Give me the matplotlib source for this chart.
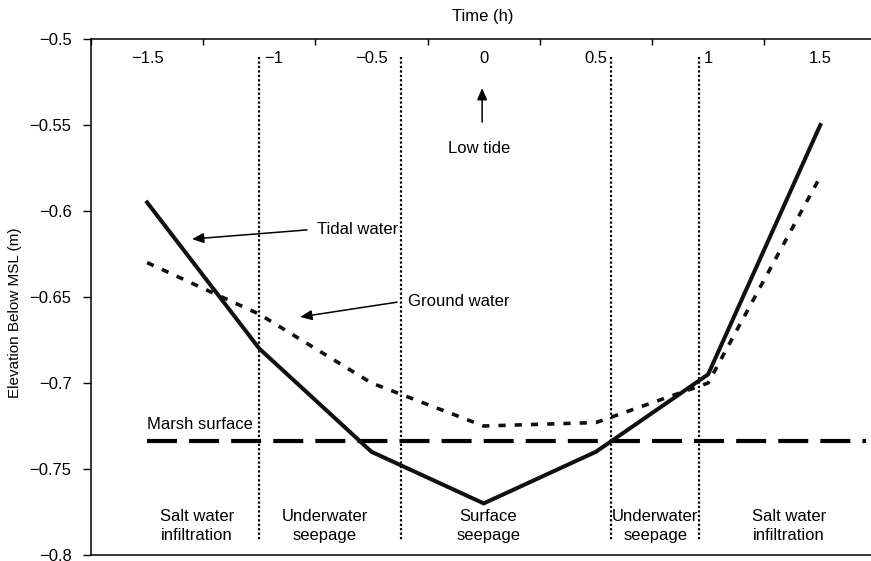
import matplotlib
matplotlib.use("Agg")
import matplotlib.pyplot as plt

plt.rcParams["font.family"] = ["Liberation Sans", "DejaVu Sans"]
plt.rcParams["axes.unicode_minus"] = True

# Time relative to low tide (h)
time_h = [-1.5, -1.0, -0.5, 0.0, 0.5, 1.0, 1.5]
time_labels = ["\u22121.5", "\u22121", "\u22120.5", "0", "0.5", "1", "1.5"]

# Elevations (m relative to MSL)
tidal_water = [-0.595, -0.68, -0.74, -0.77, -0.74, -0.695, -0.55]
ground_water = [-0.63, -0.66, -0.70, -0.725, -0.723, -0.70, -0.58]
marsh_surface = -0.7337

# Phase boundaries (h) and phase names
phase_bounds = [-1.0, -0.368, 0.569, 0.961]
phase_names = ["Salt water\ninfiltration", "Underwater\nseepage", "Surface\nseepage",
               "Underwater\nseepage", "Salt water\ninfiltration"]
phase_centers = [-1.277, -0.707, 0.020, 0.764, 1.361]

y_ticks = [-0.5, -0.55, -0.6, -0.65, -0.7, -0.75, -0.8]
y_labels = ["\u22120.5", "\u22120.55", "\u22120.6", "\u22120.65", "\u22120.7", "\u22120.75", "\u22120.8"]

W, H = 871, 561
fig = plt.figure(figsize=(W / 100, H / 100), dpi=100)
ax = fig.add_axes([91 / W, 1 - 555 / H, (W - 91) / W, (555 - 39) / H])

ax.set_xlim(-1.75, 1.726)
ax.set_ylim(-0.8, -0.5)

# Category-style time axis along the top: ticks between categories
ax.xaxis.tick_top()
ax.set_xticks([-1.75, -1.25, -0.75, -0.25, 0.25, 0.75, 1.25])
ax.tick_params(axis="x", which="major", direction="in", length=4, width=1,
               labeltop=False, labelbottom=False, bottom=False)
ax.spines["right"].set_visible(False)
for s in ("left", "top", "bottom"):
    ax.spines[s].set_linewidth(1.1)

label_nudge = {"\u22121": 0.062}
for t, lab in zip(time_h, time_labels):
    ax.text(t + label_nudge.get(lab, 0.0), -0.5116, lab, ha="center", va="center", fontsize=12)

ax.set_yticks(y_ticks)
ax.set_yticklabels(y_labels)
ax.tick_params(axis="y", direction="out", length=6, width=1, pad=8, labelsize=12)

ax.set_ylabel("Elevation Below MSL (m)", fontsize=11)
ax.yaxis.set_label_coords(-0.089, 0.469)
fig.text(483 / W, 1 - 16 / H, "Time (h)", ha="center", va="center", fontsize=12)

# Phase separators
for xb in phase_bounds:
    ax.plot([xb, xb], [-0.5105, -0.791], color="black", lw=1.6,
            linestyle=(0, (1, 1)), solid_capstyle="butt", dash_capstyle="butt")

# Marsh surface
ax.plot([-1.5, 1.704], [marsh_surface, marsh_surface], color="black", lw=3.0,
        linestyle=(0, (7.2, 2.9)), dash_capstyle="butt")

# Tidal water and ground water
ax.plot(time_h, tidal_water, color="#111111", lw=2.9, solid_joinstyle="miter")
ax.plot(time_h, ground_water, color="#111111", lw=2.6,
        linestyle=(0, (2.0, 2.5)), dash_capstyle="butt")

arrow = dict(arrowstyle="-|>,head_length=0.7,head_width=0.3", color="black", lw=1.1,
             shrinkA=0, shrinkB=0)
ax.annotate("", xy=(-1.30, -0.6163), xytext=(-0.787, -0.611), arrowprops=arrow)
ax.text(-0.742, -0.6105, "Tidal water", ha="left", va="center", fontsize=12)
ax.annotate("", xy=(-0.818, -0.6616), xytext=(-0.386, -0.653), arrowprops=arrow)
ax.text(-0.337, -0.6529, "Ground water", ha="left", va="center", fontsize=12)
ax.annotate("", xy=(-0.007, -0.5285), xytext=(-0.007, -0.5483), arrowprops=arrow)
ax.text(-0.0205, -0.5634, "Low tide", ha="center", va="center", fontsize=12)
ax.text(-1.5, -0.7244, "Marsh surface", ha="left", va="center", fontsize=12)

for xc, name in zip(phase_centers, phase_names):
    ax.text(xc, -0.7831, name, ha="center", va="center", fontsize=12, linespacing=1.3)

fig.savefig("out.png", dpi=100)
